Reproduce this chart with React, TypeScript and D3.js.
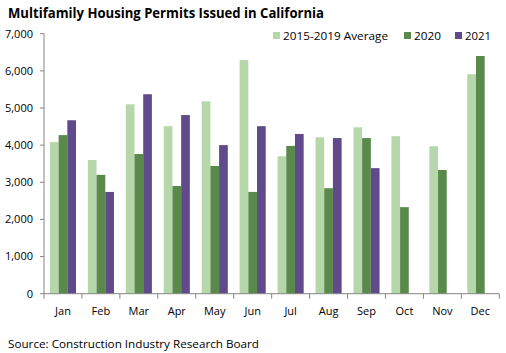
import React from "react";
import * as d3 from "d3";

const months = ["Jan","Feb","Mar","Apr","May","Jun","Jul","Aug","Sep","Oct","Nov","Dec"];
const seriesNames = ["2015-2019 Average", "2020", "2021"];
const avg2015_2019 = [4080, 3600, 5100, 4510, 5180, 6290, 3700, 4210, 4480, 4240, 3970, 5910];
const y2020 = [4270, 3200, 3760, 2900, 3440, 2740, 3980, 2840, 4190, 2330, 3330, 6400];
const y2021: (number | null)[] = [4670, 2740, 5370, 4810, 4000, 4510, 4300, 4190, 3380, null, null, null];
const yTicks = [0, 1000, 2000, 3000, 4000, 5000, 6000, 7000];
const colors = ["#b6d7aa", "#5a8a4b", "#604a8b"];

const W = 506, H = 353;
const left = 44, right = 499.3, top = 33.7, bottom = 293.7;

export default function App() {
  const x = d3.scaleBand<string>().domain(months).range([left, right]);
  const bw = x.bandwidth();
  const barW = 8.7;
  const groupW = barW * 3;
  const y = d3.scaleLinear().domain([0, 7000]).range([bottom, top]);
  const fmt = d3.format(",");
  const series = [avg2015_2019, y2020, y2021];
  const legendX = [273, 404, 455];
  const legendLen = [105, 27, 26];
  return (
    <svg width={W} height={H} style={{ position: "absolute", left: 0, top: 0, background: "#fff" }}>
      <text x={8} y={18} fontFamily="'Open Sans', sans-serif" fontWeight="bold" fontSize={14.5} fill="#000" textLength={316} lengthAdjust="spacingAndGlyphs">
        Multifamily Housing Permits Issued in California
      </text>
      {series.map((vals, si) =>
        vals.map((v, i) =>
          v == null ? null : (
            <rect key={`${si}-${i}`} x={(x(months[i]) as number) + (bw - groupW) / 2 + si * barW} y={y(v)} width={barW} height={bottom - y(v)} fill={colors[si]} />
          )
        )
      )}
      <line x1={left} x2={left} y1={top} y2={bottom} stroke="#868686" strokeWidth={1} />
      <line x1={left} x2={right} y1={bottom} y2={bottom} stroke="#868686" strokeWidth={1} />
      {yTicks.map((t) => (
        <g key={t}>
          <line x1={left - 4} x2={left} y1={y(t)} y2={y(t)} stroke="#868686" />
          <text x={33} y={y(t)} dy="0.35em" textAnchor="end" fontFamily="'Open Sans', sans-serif" fontSize={11} fill="#000">{fmt(t)}</text>
        </g>
      ))}
      {months.map((m, i) => (
        <line key={m} x1={left + i * bw} x2={left + i * bw} y1={bottom} y2={bottom + 5} stroke="#868686" />
      ))}
      <line x1={right} x2={right} y1={bottom} y2={bottom + 5} stroke="#868686" />
      {months.map((m) => (
        <text key={m} x={(x(m) as number) + bw / 2} y={315} textAnchor="middle" fontFamily="'Open Sans', sans-serif" fontSize={11} fill="#000">{m}</text>
      ))}
      {seriesNames.map((n, i) => (
        <g key={n}>
          <rect x={legendX[i]} y={32} width={7} height={7} fill={colors[i]} />
          <text x={legendX[i] + 10} y={35.7} dy="0.35em" fontFamily="'Open Sans', sans-serif" fontSize={11} fill="#000" textLength={legendLen[i]} lengthAdjust="spacingAndGlyphs">{n}</text>
        </g>
      ))}
      <text x={8} y={348} fontFamily="'Open Sans', sans-serif" fontSize={11.5} fill="#000" textLength={251} lengthAdjust="spacingAndGlyphs">Source: Construction Industry Research Board</text>
    </svg>
  );
}
